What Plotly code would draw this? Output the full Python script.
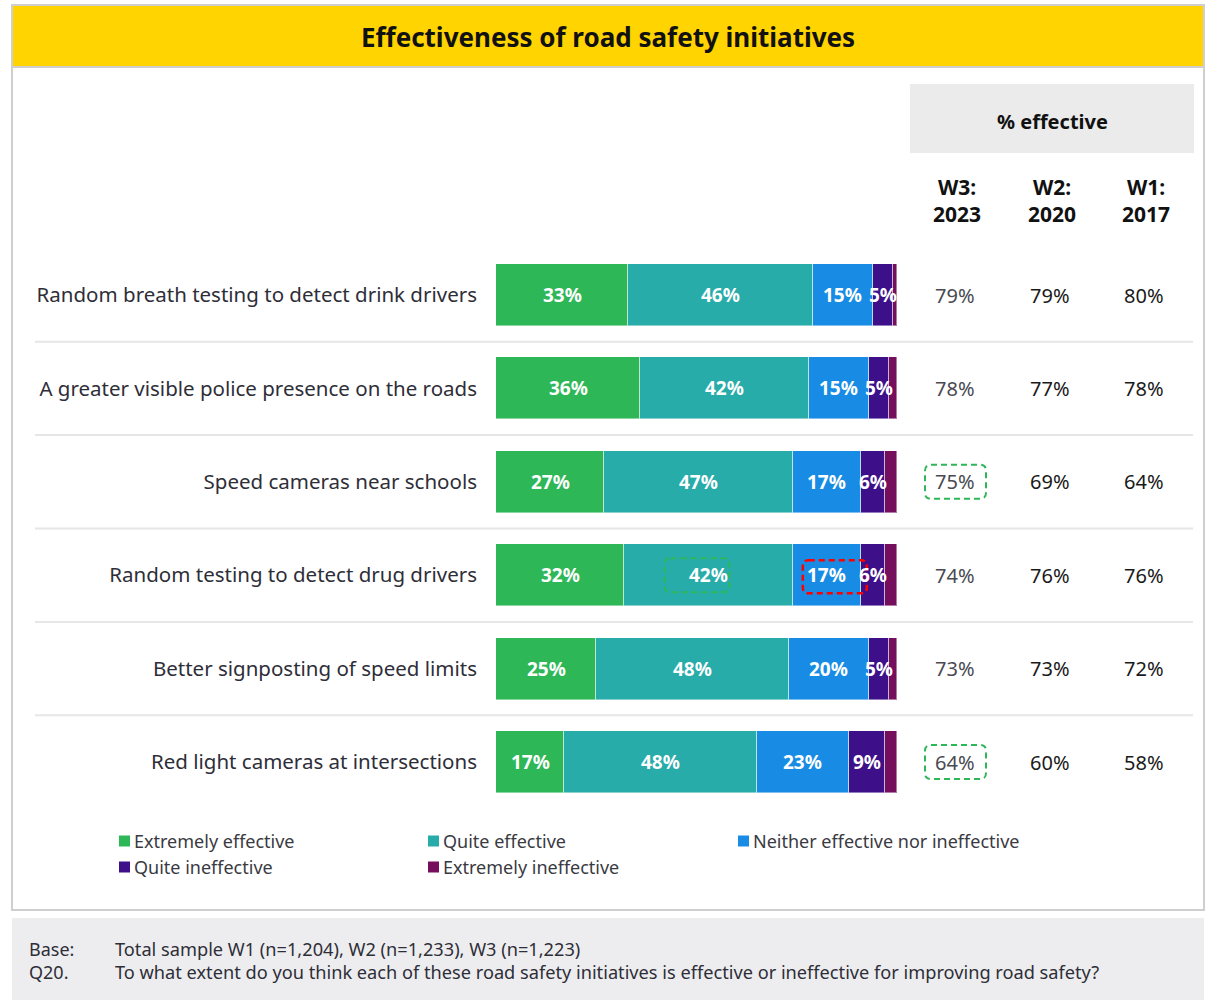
import plotly.graph_objects as go

# ---- data -------------------------------------------------------------
initiatives = [
    "Random breath testing to detect drink drivers",
    "A greater visible police presence on the roads",
    "Speed cameras near schools",
    "Random testing to detect drug drivers",
    "Better signposting of speed limits",
    "Red light cameras at intersections",
]
series_names = [
    "Extremely effective",
    "Quite effective",
    "Neither effective nor ineffective",
    "Quite ineffective",
    "Extremely ineffective",
]
extremely_effective = [33, 36, 27, 32, 25, 17]
quite_effective = [46, 42, 47, 42, 48, 48]
neither = [15, 15, 17, 17, 20, 23]
quite_ineffective = [5, 5, 6, 6, 5, 9]
extremely_ineffective = [1, 2, 3, 3, 2, 3]

wave_headers = ["W3:<br>2023", "W2:<br>2020", "W1:<br>2017"]
w3_2023 = [79, 78, 75, 74, 73, 64]
w2_2020 = [79, 77, 69, 76, 73, 60]
w1_2017 = [80, 78, 64, 76, 72, 58]

title = "Effectiveness of road safety initiatives"
base_note = "Total sample W1 (n=1,204), W2 (n=1,233), W3 (n=1,223)"
question_note = ("To what extent do you think each of these road safety "
                 "initiatives is effective or ineffective for improving road safety?")

# ---- styling ----------------------------------------------------------
colors = ["#2DB757", "#27ACAA", "#188CE5", "#3D108A", "#750E5C"]
TEXT = "#2E2E38"
FONT = "Noto Sans"
W, H = 1206, 1001
series_values = [extremely_effective, quite_effective, neither,
                 quite_ineffective, extremely_ineffective]
labelled_series = 4  # the last segment carries no label


def px(x):
    return x / W


def py(y):
    return 1 - y / H


rows = list(range(len(initiatives)))
row_pitch = 93.4          # pixels between row centres
first_row_px = 295        # pixel centre of the first row
y_top = -first_row_px / row_pitch
y_bottom = (H - first_row_px) / row_pitch
bar_x0, bar_x1 = 496, 897
x_scale = (bar_x1 - bar_x0) / 100.0


def rounded_box(x0, x1, y0, y1, rx, ry):
    return (f"M {x0 + rx},{y0} L {x1 - rx},{y0} Q {x1},{y0} {x1},{y0 + ry} "
            f"L {x1},{y1 - ry} Q {x1},{y1} {x1 - rx},{y1} "
            f"L {x0 + rx},{y1} Q {x0},{y1} {x0},{y1 - ry} "
            f"L {x0},{y0 + ry} Q {x0},{y0} {x0 + rx},{y0} Z")


def label(x, y, text, size, color, xref="paper", yref="paper", xanchor="center"):
    return dict(xref=xref, yref=yref, x=x, y=y, text=text, showarrow=False,
                xanchor=xanchor, yanchor="middle",
                font=dict(family=FONT, size=size, color=color))


fig = go.Figure()

for name, vals, col in zip(series_names, series_values, colors):
    fig.add_bar(
        y=rows, x=vals, orientation="h", name=name,
        marker=dict(color=col, line=dict(color="rgba(255,255,255,0.45)", width=1)),
        width=62 / row_pitch, showlegend=False, hoverinfo="skip",
    )

annotations = []
shapes = []

# frame, title band, footer band
shapes.append(dict(type="rect", xref="paper", yref="paper", layer="below",
                   x0=px(12), x1=px(1204), y0=py(910), y1=py(5),
                   line=dict(color="#CFCFCF", width=2), fillcolor="white"))
shapes.append(dict(type="rect", xref="paper", yref="paper", layer="below",
                   x0=px(12), x1=px(1204), y0=py(67), y1=py(5),
                   line=dict(color="#CFCFCF", width=2), fillcolor="#FFD400"))
shapes.append(dict(type="rect", xref="paper", yref="paper", layer="below",
                   x0=px(12), x1=px(1204), y0=py(1000), y1=py(918),
                   line=dict(width=0), fillcolor="#EDEDEF"))
annotations.append(label(px(608), py(37), f"<b>{title}</b>", 26, "#111111"))

# row separators
for i in rows[:-1]:
    shapes.append(dict(type="line", xref="paper", yref="y", layer="below",
                       x0=px(35), x1=px(1193), y0=i + 0.5, y1=i + 0.5,
                       line=dict(color="#E6E6E6", width=2)))

# segment labels
for s in range(labelled_series):
    vals = series_values[s]
    for i in rows:
        start = sum(series_values[k][i] for k in range(s))
        annotations.append(label(start + vals[i] / 2, i, f"<b>{vals[i]}%</b>", 19,
                                 "white", xref="x", yref="y"))

# "% effective" table
shapes.append(dict(type="rect", xref="paper", yref="paper", layer="below",
                   x0=px(910), x1=px(1194), y0=py(153), y1=py(84),
                   line=dict(width=0), fillcolor="#EBEBEB"))
annotations.append(label(px(1052), py(121), "<b>% effective</b>", 20, "#111111"))
col_x = [957, 1052, 1146]
col_colors = ["#4A4A52", "#1A1A1A", "#1A1A1A"]
for cx, head, vals, cc in zip(col_x, wave_headers, [w3_2023, w2_2020, w1_2017], col_colors):
    annotations.append(label(px(cx), py(201), f"<b>{head}</b>", 21, "#111111"))
    for i in rows:
        annotations.append(label(px(cx - 2), i, f"{vals[i]}%", 20, cc, yref="y"))

# highlighted cells
dash_green = dict(color="#2DB757", width=2, dash="6px,4px")
dash_red = dict(color="#FF0000", width=2.5, dash="6px,4px")
rx_paper, ry_data = 6 / W, 6 / row_pitch
half_h = 17 / row_pitch
for i in (2, 5):
    shapes.append(dict(type="path", xref="paper", yref="y", line=dash_green,
                       path=rounded_box(px(925), px(986), i - half_h, i + half_h,
                                        rx_paper, ry_data)))

r = 3
teal_mid = extremely_effective[r] + quite_effective[r] / 2
blue_mid = extremely_effective[r] + quite_effective[r] + neither[r] / 2
rx_data = 6 / x_scale
shapes.append(dict(type="path", xref="x", yref="y", line=dash_green,
                   path=rounded_box(teal_mid - 44 / x_scale, teal_mid + 21 / x_scale,
                                    r - half_h, r + half_h, rx_data, ry_data)))
shapes.append(dict(type="path", xref="x", yref="y", line=dash_red,
                   path=rounded_box(blue_mid - 24 / x_scale, blue_mid + 40 / x_scale,
                                    r - half_h + 2 / row_pitch, r + half_h + 1 / row_pitch,
                                    rx_data, ry_data)))

# legend
legend_pos = [(119, 841), (428, 841), (738, 841), (119, 867), (428, 867)]
for name, col, (lx, ly) in zip(series_names, colors, legend_pos):
    shapes.append(dict(type="rect", xref="paper", yref="paper",
                       x0=px(lx), x1=px(lx + 11), y0=py(ly + 5.5), y1=py(ly - 5.5),
                       line=dict(width=0), fillcolor=col))
    annotations.append(label(px(lx + 13), py(ly), name, 18, "#3A3A42", xanchor="left"))

# footnotes
for ny, tag, note in ((949, "Base:", base_note), (972, "Q20.", question_note)):
    annotations.append(label(px(27), py(ny), tag, 18, TEXT, xanchor="left"))
    annotations.append(label(px(113), py(ny), note, 18.2, TEXT, xanchor="left"))

fig.update_layout(
    width=W, height=H, barmode="stack", bargap=0,
    margin=dict(l=0, r=0, t=0, b=0),
    paper_bgcolor="white", plot_bgcolor="rgba(0,0,0,0)",
    showlegend=False, shapes=shapes, annotations=annotations,
    xaxis=dict(domain=[px(bar_x0), px(bar_x1)], range=[0, 100], visible=False,
               fixedrange=True),
    yaxis=dict(domain=[0, 1], range=[y_bottom, y_top], tickvals=rows,
               ticktext=initiatives, showgrid=False, zeroline=False, showline=False,
               ticks="", ticklabelstandoff=18, automargin=False, fixedrange=True,
               tickfont=dict(family=FONT, size=20.5, color=TEXT)),
)

fig.write_html("out.html")
